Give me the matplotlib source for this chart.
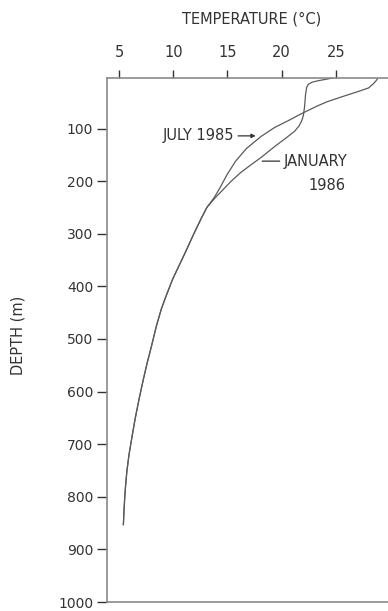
import matplotlib
matplotlib.use("Agg")
import matplotlib.pyplot as plt
import numpy as np

# temperature profiles, depth in m, temperature in deg C
# below ~250 m both casts follow the same curve
deep_depth = [250, 270, 300, 336, 360, 386, 415, 443, 475, 513, 545, 576, 614,
              650, 689, 720, 752, 780, 803, 830, 853]
deep_temp = [13.1, 12.6, 11.9, 11.1, 10.55, 9.95, 9.4, 8.9, 8.45, 8.0, 7.6, 7.25,
             6.85, 6.5, 6.17, 5.92, 5.72, 5.6, 5.52, 5.45, 5.4]

july_depth = [3, 8, 15, 23, 30, 40, 49, 57, 64, 73, 83, 98, 115, 138, 162, 188,
              213, 232]
july_temp = [28.9, 28.75, 28.45, 28.0, 27.0, 25.5, 24.2, 23.3, 22.6, 21.7, 20.8,
             19.35, 18.1, 16.75, 15.75, 14.95, 14.3, 13.75]

jan_depth = [3, 6, 9, 12, 16, 22, 35, 60, 75, 85, 95, 105, 118, 135, 155, 170,
             184, 200, 216, 232]
jan_temp = [24.9, 24.2, 23.4, 22.8, 22.45, 22.3, 22.2, 22.1, 22.0, 21.85, 21.6,
            21.2, 20.4, 19.3, 18.1, 17.1, 16.2, 15.35, 14.6, 13.85]

temp_ticks = [5, 10, 15, 20, 25]
depth_ticks = [100, 200, 300, 400, 500, 600, 700, 800, 900, 1000]

line_col = "#5a5a5a"
axis_col = "#8a8a8a"
text_col = "#333333"
fs = 10.5
tick_fs = 10

fig = plt.figure(figsize=(3.88, 6.11), dpi=100)
ax = fig.add_axes([107 / 388, 1 - 602 / 611, 281 / 388, (602 - 78) / 611])

for d, t in [(july_depth, july_temp), (jan_depth, jan_temp)]:
    ax.plot(np.r_[t, deep_temp], np.r_[d, deep_depth], color=line_col, lw=0.9,
            solid_joinstyle="round")

ax.set_xlim(3.89, 29.8)
ax.set_ylim(1000, 4)

ax.xaxis.tick_top()
ax.set_xticks(temp_ticks)
ax.set_yticks(depth_ticks)
ax.tick_params(axis="x", direction="out", length=6, width=1, color=text_col,
               pad=7, labelsize=fs, labelcolor=text_col)
ax.tick_params(axis="y", direction="out", length=7, width=1, color=text_col,
               pad=3, labelsize=tick_fs, labelcolor=text_col)
ax.spines["right"].set_visible(False)
for s in ["top", "left", "bottom"]:
    ax.spines[s].set_color(axis_col)
    ax.spines[s].set_linewidth(1.2)

fig.text(252 / 388, 1 - 19 / 611, "TEMPERATURE (°C)", ha="center", va="center",
         fontsize=fs, color=text_col)
fig.text(18 / 388, 1 - 335 / 611, "DEPTH (m)", ha="center", va="center",
         rotation=90, fontsize=fs, color=text_col)

ax.annotate("JULY 1985", xy=(17.6, 114), xytext=(15.6, 114), ha="right", va="center",
            fontsize=fs, color=text_col,
            arrowprops=dict(arrowstyle="-|>", color=text_col, lw=0.9,
                            mutation_scale=6, shrinkA=1, shrinkB=0))
ax.annotate("JANUARY", xy=(18.2, 162), xytext=(20.2, 162), ha="left", va="center",
            fontsize=fs, color=text_col,
            arrowprops=dict(arrowstyle="-", color=text_col, lw=0.9, shrinkA=1, shrinkB=0))
ax.text(24.2, 208, "1986", ha="center", va="center", fontsize=fs, color=text_col)

fig.savefig("out.png", dpi=100)
